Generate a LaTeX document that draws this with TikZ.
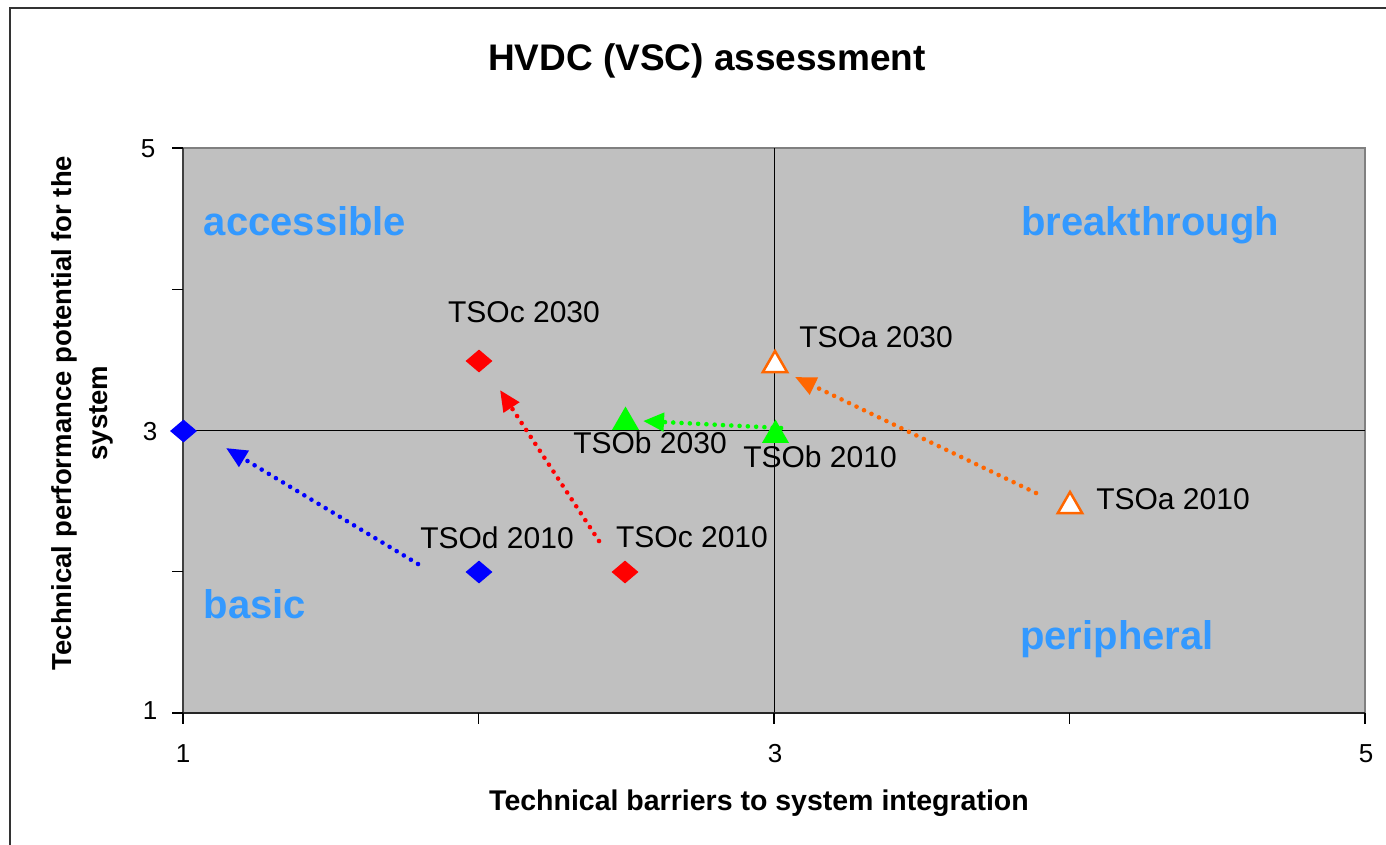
\documentclass[tikz,border=0pt]{standalone}
\usepackage{fontspec}
\setmainfont{Liberation Sans}
\usetikzlibrary{arrows.meta,shapes.geometric}
\definecolor{plotgray}{HTML}{C0C0C0}
\definecolor{framegray}{HTML}{808080}
\definecolor{quadblue}{HTML}{3399FF}
\definecolor{mkorange}{HTML}{FF6600}
\definecolor{mkgreen}{HTML}{00FF00}
\definecolor{mkblue}{HTML}{0000FF}
\definecolor{mkred}{HTML}{FF0000}
\begin{document}
\begin{tikzpicture}[x=1pt,y=-1pt,
  dmd/.style={diamond, aspect=1.15, minimum width=27pt, minimum height=23pt, inner sep=0pt, draw=none},
  tri/.style={regular polygon, regular polygon sides=3, minimum size=31pt, inner sep=0pt},
  opentri/.style={tri, fill=white, draw=mkorange, line width=2.5pt, minimum size=28pt},
  ptlabel/.style={font=\fontsize{30}{36}\selectfont, anchor=base, inner sep=0pt},
  quad/.style={font=\bfseries\fontsize{40}{48}\selectfont, text=quadblue, anchor=base, inner sep=0pt},
  ticklabel/.style={font=\fontsize{26}{30}\selectfont, anchor=base, inner sep=0pt},
  trend/.style={line width=4.6pt, line cap=round, dash pattern=on 0pt off 8.3pt, -{Triangle[length=21pt,width=18pt]}},
]
\useasboundingbox (0,0) rectangle (1386,844);
% outer frame
\draw[line width=2pt, black!80] (10,860) -- (10,8) -- (1400,8);
% plot area
\fill[plotgray] (183,148) rectangle (1365,713);
\draw[line width=1.5pt, framegray] (183,148) -- (1365,148) -- (1365,713);
% grid lines
\draw[line width=1pt, black] (183,430.5) -- (1365,430.5);
\draw[line width=1pt, black] (774,148) -- (774,713);
% axes
\draw[line width=2pt, black!75] (183,148) -- (183,713);
\draw[line width=2pt, black!85] (182,713) -- (1365,713);
\foreach \yy in {148,289.25,430.5,571.75,713} \draw[line width=1.2pt] (172,\yy) -- (183,\yy);
\foreach \xx in {183,478.5,774,1069.5,1365} \draw[line width=1.2pt] (\xx,713) -- (\xx,724);
% tick labels
\node[ticklabel] (y5) at (148,157) {5};
\node[ticklabel] (y3) at (150,440) {3};
\node[ticklabel] (y1) at (150,719) {1};
\node[ticklabel] (x1) at (183,762) {1};
\node[ticklabel] (x3) at (775,762) {3};
\node[ticklabel] (x5) at (1366,762) {5};
% titles
\node[font=\bfseries\fontsize{37}{44}\selectfont, anchor=base, inner sep=0pt] (title) at (707,70) {HVDC (VSC) assessment};
\node[font=\bfseries\fontsize{28.5}{34}\selectfont, anchor=base, inner sep=0pt] (xtitle) at (759,810) {Technical barriers to system integration};
\node[font=\bfseries\fontsize{27.5}{36}\selectfont, align=center, rotate=90, inner sep=0pt] (ytitle) at (82,413) {Technical performance potential for the\\system};
% quadrant labels
\node[quad] (qa) at (305,235) {accessible};
\node[quad] (qb) at (1150,235) {breakthrough};
\node[quad] (qc) at (255,618) {basic};
\node[quad] (qd) at (1117,649) {peripheral};
% trend arrows
\coordinate (bS) at (418,564); \coordinate (bE) at (226,448);
\coordinate (rS) at (599,541); \coordinate (rE) at (500,390);
\coordinate (gS) at (781,428); \coordinate (gE) at (643,421);
\coordinate (oS) at (1036,493); \coordinate (oE) at (795,377);
\draw[trend, mkblue] (bS) -- (bE);
\draw[trend, mkred] (rS) -- (rE);
\draw[trend, mkgreen] (gS) -- (gE);
\draw[trend, mkorange] (oS) -- (oE);
% markers
\node[dmd, fill=mkblue] (d0) at (183.5,431) {};
\node[dmd, fill=mkblue] (dTSOd) at (479,572) {};
\node[dmd, fill=mkred] (cTSOc10) at (625,572) {};
\node[dmd, fill=mkred] (cTSOc30) at (479,361) {};
\node[tri, fill=mkgreen] (bTSOb30) at (625.5,422) {};
\node[tri, fill=mkgreen] (bTSOb10) at (775.5,435) {};
\node[opentri] (aTSOa30) at (775,365) {};
\node[opentri] (aTSOa10) at (1070,506) {};
% point labels
\node[ptlabel] (lc30) at (524,322) {TSOc 2030};
\node[ptlabel] (ld10) at (497,548) {TSOd 2010};
\node[ptlabel] (lc10) at (692,547) {TSOc 2010};
\node[ptlabel] (lb30) at (650,453) {TSOb 2030};
\node[ptlabel] (lb10) at (820,467) {TSOb 2010};
\node[ptlabel] (la30) at (876,347) {TSOa 2030};
\node[ptlabel] (la10) at (1173,509) {TSOa 2010};
\end{tikzpicture}
\end{document}
